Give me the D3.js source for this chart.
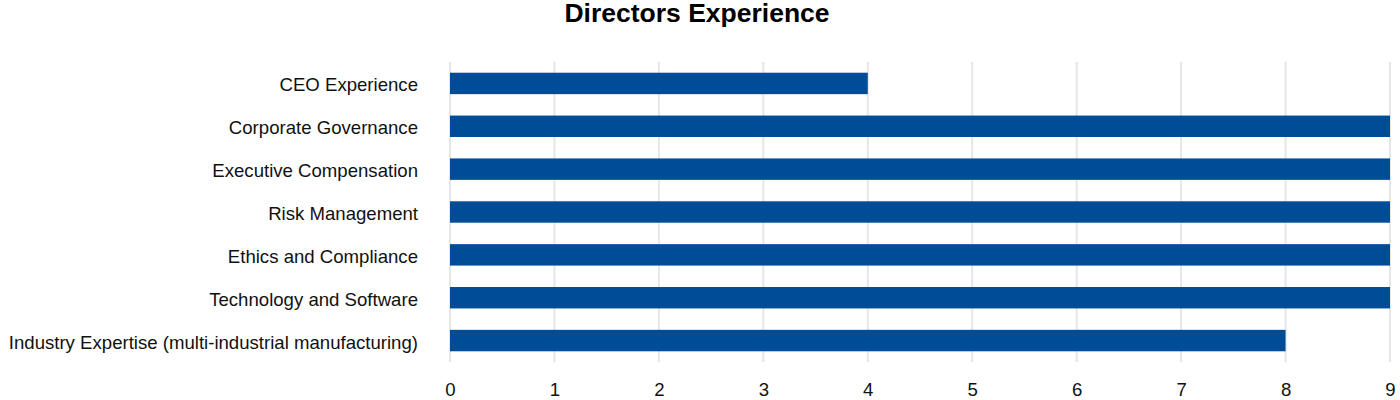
<!DOCTYPE html>
<html>
<head>
<meta charset="utf-8">
<script src="https://cdn.jsdelivr.net/npm/d3@7"></script>
<style>
  html, body { margin: 0; padding: 0; background: #fff; }
  text { font-family: "Liberation Sans", Arial, sans-serif; }
</style>
</head>
<body>
<svg id="chart" width="1400" height="400"></svg>
<script>
const categories = [
  "CEO Experience",
  "Corporate Governance",
  "Executive Compensation",
  "Risk Management",
  "Ethics and Compliance",
  "Technology and Software",
  "Industry Expertise (multi-industrial manufacturing)"
];
const values = [4, 9, 9, 9, 9, 9, 8];
const tickValues = [0, 1, 2, 3, 4, 5, 6, 7, 8, 9];
const title = "Directors Experience";

const svg = d3.select("#chart");
const margin = { left: 450, right: 10, top: 62, bottom: 38 };
const W = 1400, H = 400;

const x = d3.scaleLinear().domain([0, 9]).range([margin.left, 1390]);
const y = d3.scaleBand().domain(categories).range([margin.top, H - margin.bottom])
  .paddingInner(0.5).paddingOuter(0.25);

// gridlines
svg.append("g")
  .selectAll("line")
  .data(tickValues)
  .join("line")
  .attr("x1", d => x(d)).attr("x2", d => x(d))
  .attr("y1", margin.top).attr("y2", H - margin.bottom)
  .attr("stroke", "#e6e6e6")
  .attr("stroke-width", 2);

// bars
svg.append("g")
  .selectAll("rect")
  .data(values)
  .join("rect")
  .attr("x", x(0))
  .attr("y", (d, i) => y(categories[i]))
  .attr("width", d => x(d) - x(0))
  .attr("height", y.bandwidth())
  .attr("fill", "#004c97");

// x axis
const xAxis = svg.append("g")
  .attr("transform", `translate(0,${H - margin.bottom})`)
  .call(d3.axisBottom(x).tickValues(tickValues).tickSize(0).tickPadding(21));
xAxis.select(".domain").remove();
xAxis.selectAll("text").attr("font-size", 18.6).attr("fill", "#111")
  .attr("font-family", "'Liberation Sans', Arial, sans-serif");

// y axis
const yAxis = svg.append("g")
  .attr("transform", `translate(${margin.left},0)`)
  .call(d3.axisLeft(y).tickSize(0).tickPadding(32));
yAxis.select(".domain").remove();
yAxis.selectAll("text").attr("font-size", 18.6).attr("fill", "#111")
  .attr("dy", "0.43em")
  .attr("font-family", "'Liberation Sans', Arial, sans-serif");

// title
svg.append("text")
  .attr("x", 697).attr("y", 22)
  .attr("text-anchor", "middle")
  .attr("font-size", 26.5).attr("font-weight", "bold")
  .attr("fill", "#000")
  .text(title);
</script>
</body>
</html>
